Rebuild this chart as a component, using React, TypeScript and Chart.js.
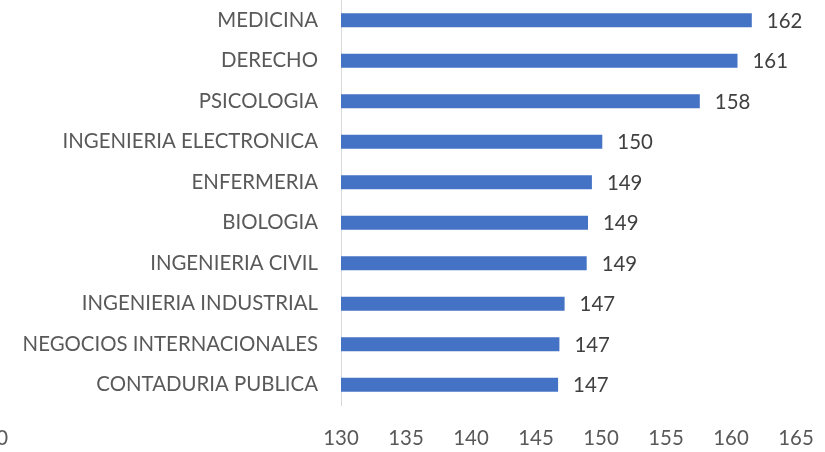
import React, { useEffect, useRef } from "react";
import { Chart, registerables } from "chart.js";

Chart.register(...registerables);

const categories = [
  "MEDICINA",
  "DERECHO",
  "PSICOLOGIA",
  "INGENIERIA ELECTRONICA",
  "ENFERMERIA",
  "BIOLOGIA",
  "INGENIERIA CIVIL",
  "INGENIERIA INDUSTRIAL",
  "NEGOCIOS INTERNACIONALES",
  "CONTADURIA PUBLICA",
];
const values = [161.6, 160.5, 157.6, 150.1, 149.3, 149.0, 148.9, 147.2, 146.8, 146.7];
const axisMin = 130;
const axisMax = 165;
const axisStep = 5;
const strayLabel = "0";

const FONT = "Lato, 'Liberation Sans', Arial, sans-serif";

export default function App() {
  const ref = useRef<HTMLCanvasElement | null>(null);

  useEffect(() => {
    const canvas = ref.current;
    if (!canvas) return;

    const dataLabels = {
      id: "dataLabels",
      afterDatasetsDraw(chart: any) {
        const ctx = chart.ctx;
        const meta = chart.getDatasetMeta(0);
        ctx.save();
        ctx.font = `20.4px ${FONT}`;
        ctx.fillStyle = "#404040";
        ctx.textAlign = "left";
        ctx.textBaseline = "middle";
        meta.data.forEach((el: any, i: number) => {
          ctx.fillText(String(Math.round(values[i])), el.x + 15, el.y + 1);
        });
        ctx.restore();
      },
    };

    const stray = {
      id: "strayLabel",
      afterDraw(chart: any) {
        const ctx = chart.ctx;
        const xs = chart.scales.x;
        ctx.save();
        ctx.font = `20.4px ${FONT}`;
        ctx.fillStyle = "#595959";
        ctx.textAlign = "right";
        ctx.textBaseline = "middle";
        ctx.fillText(strayLabel, 8, xs.top + 21 + 12.5);
        ctx.restore();
      },
    };

    const chart = new Chart(canvas, {
      type: "bar",
      data: {
        labels: categories,
        datasets: [
          {
            data: values,
            backgroundColor: "#4472C4",
            borderWidth: 0,
            barPercentage: 0.35,
            categoryPercentage: 1,
          },
        ],
      },
      options: {
        indexAxis: "y",
        responsive: false,
        animation: false,
        devicePixelRatio: 1,
        layout: { padding: { top: -1, right: 29, bottom: 0, left: 0 } },
        plugins: {
          legend: { display: false },
          tooltip: { enabled: false },
        },
        scales: {
          x: {
            min: axisMin,
            max: axisMax,
            grid: { display: false, drawTicks: false },
            border: { display: false },
            ticks: {
              stepSize: axisStep,
              color: "#595959",
              font: { family: FONT, size: 20.4 },
              padding: 21,
              maxRotation: 0,
            },
            afterFit(scale: any) {
              scale.height = 47;
              scale.paddingLeft = 0;
              scale.paddingRight = 0;
            },
          },
          y: {
            grid: { display: false, drawTicks: false },
            border: { display: true, color: "#D9D9D9", width: 1 },
            ticks: {
              color: "#595959",
              font: { family: FONT, size: 20.4 },
              padding: 23,
              autoSkip: false,
            },
            afterFit(scale: any) {
              scale.width = 341;
              scale.paddingTop = 0;
              scale.paddingBottom = 0;
            },
          },
        },
      },
      plugins: [dataLabels, stray],
    });

    return () => chart.destroy();
  }, []);

  return (
    <div style={{ position: "absolute", left: 0, top: 0, width: 825, height: 452, background: "#fff" }}>
      <canvas ref={ref} width={825} height={452} style={{ display: "block" }} />
    </div>
  );
}
